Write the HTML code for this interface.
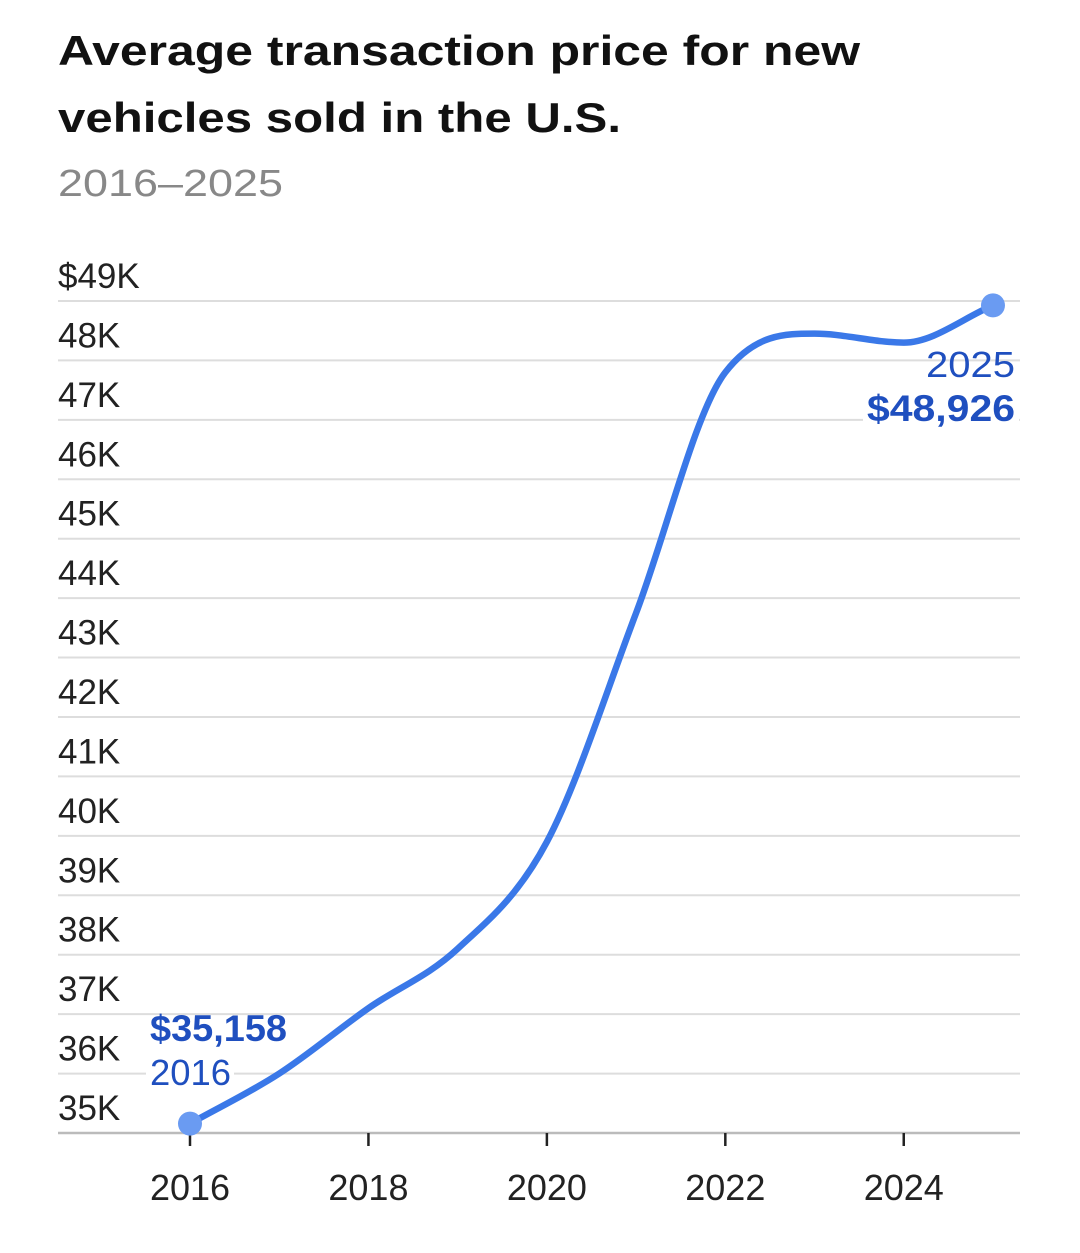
<!DOCTYPE html>
<html><head><meta charset="utf-8">
<style>
html,body{margin:0;padding:0;background:#fff;}
body{width:1080px;height:1248px;overflow:hidden;font-family:"Liberation Sans",sans-serif;}
</style></head>
<body>
<svg width="1080" height="1248" viewBox="0 0 1080 1248" xmlns="http://www.w3.org/2000/svg">
<text x="58" y="65" font-size="42" font-weight="bold" fill="#111" textLength="802" lengthAdjust="spacingAndGlyphs">Average transaction price for new</text>
<text x="58" y="132" font-size="42" font-weight="bold" fill="#111" textLength="563" lengthAdjust="spacingAndGlyphs">vehicles sold in the U.S.</text>
<text x="58" y="196" font-size="38" fill="#888" textLength="225" lengthAdjust="spacingAndGlyphs">2016–2025</text>
<g id="grid"></g><g id="xaxis"></g><g id="series"></g><g id="ann"></g>
</svg>
<script>
const years=[2016,2017,2018,2019,2020,2021,2022,2023,2024,2025];
const prices=[35158,36000,37100,38100,39900,43750,47800,48450,48300,48926];
const yTicks=[35,36,37,38,39,40,41,42,43,44,45,46,47,48,49];
const xTicks=[2016,2018,2020,2022,2024];
const NS="http://www.w3.org/2000/svg";
const x=v=>190+(v-2016)*89.22;
const y=v=>1133-(v-35000)/1000*59.43;
function mk(t,a,p){const e=document.createElementNS(NS,t);for(const k in a)e.setAttribute(k,a[k]);p.appendChild(e);return e;}
const grid=document.getElementById('grid');
yTicks.forEach((t,i)=>{
 const gy=y(t*1000);
 const l=mk('line',{x1:58,x2:1020,y1:gy,y2:gy,stroke:i==0?'#bbb':'#ddd','stroke-width':i==0?2.5:2},grid);
 
 
 const tx=mk('text',{x:58,y:gy-13,'font-size':35,fill:'#222'},grid);
 tx.textContent=(t==49?'$':'')+t+'K';
 
 
});
const xa=document.getElementById('xaxis');
xTicks.forEach(t=>{
 const l=mk('line',{x1:x(t),x2:x(t),y1:1133,y2:1146,stroke:'#222','stroke-width':2.5},xa);
 
 
 const tx=mk('text',{x:x(t),y:1200,'font-size':36,fill:'#222','text-anchor':'middle'},xa);
 tx.textContent=t;
 
 
});
const P=years.map((yr,i)=>[x(yr),y(prices[i])]);
const n=P.length,d=[],m=[];
for(let i=0;i<n-1;i++)d.push((P[i+1][1]-P[i][1])/(P[i+1][0]-P[i][0]));
for(let i=0;i<n;i++){if(i==0)m.push(d[0]);else if(i==n-1)m.push(d[n-2]);else m.push(d[i-1]*d[i]<=0?0:(d[i-1]+d[i])/2);}
for(let i=0;i<n-1;i++){if(d[i]==0){m[i]=m[i+1]=0;continue;}const a=m[i]/d[i],b=m[i+1]/d[i],s=a*a+b*b;if(s>9){const t=3/Math.sqrt(s);m[i]=t*a*d[i];m[i+1]=t*b*d[i];}}
let p='M'+P[0][0]+','+P[0][1];
for(let i=0;i<n-1;i++){const h=(P[i+1][0]-P[i][0])/3;p+=' C'+(P[i][0]+h)+','+(P[i][1]+m[i]*h)+' '+(P[i+1][0]-h)+','+(P[i+1][1]-m[i+1]*h)+' '+P[i+1][0]+','+P[i+1][1];}
const s=document.getElementById('series');
const line=mk('path',{d:p,fill:'none',stroke:'#3a78e8','stroke-width':6.5,'stroke-linecap':'round'},s);


[0,n-1].forEach(i=>{
 const c=mk('circle',{cx:P[i][0],cy:P[i][1],r:12,fill:'#6a9bf2'},s);
 
 
});
const an=document.getElementById('ann');
function lab(txt,xx,yy,anchor,bold,name,bgw,tl){
 if(bgw){const r=mk('rect',{x:anchor=='end'?xx-bgw:xx-4,y:yy-30,width:bgw+4,height:38,fill:'#fff'},an);
 }
 const t=mk('text',{x:xx,y:yy,'font-size':bold?37:36,'font-weight':bold?'bold':'normal',fill:'#1f4fbf','text-anchor':anchor,textLength:tl,lengthAdjust:'spacingAndGlyphs'},an);
 t.textContent=txt;
 
 
}
lab('$'+prices[0].toLocaleString('en-US'),150,1041,'start',true,'start-value-label',0,137);
lab(String(years[0]),150,1085,'start',false,'start-year-label',84,81);
lab(String(years[n-1]),1015,377,'end',false,'end-year-label',0,89);
lab('$'+prices[n-1].toLocaleString('en-US'),1015,421,'end',true,'end-value-label',152,148);
</script>
</body></html>
